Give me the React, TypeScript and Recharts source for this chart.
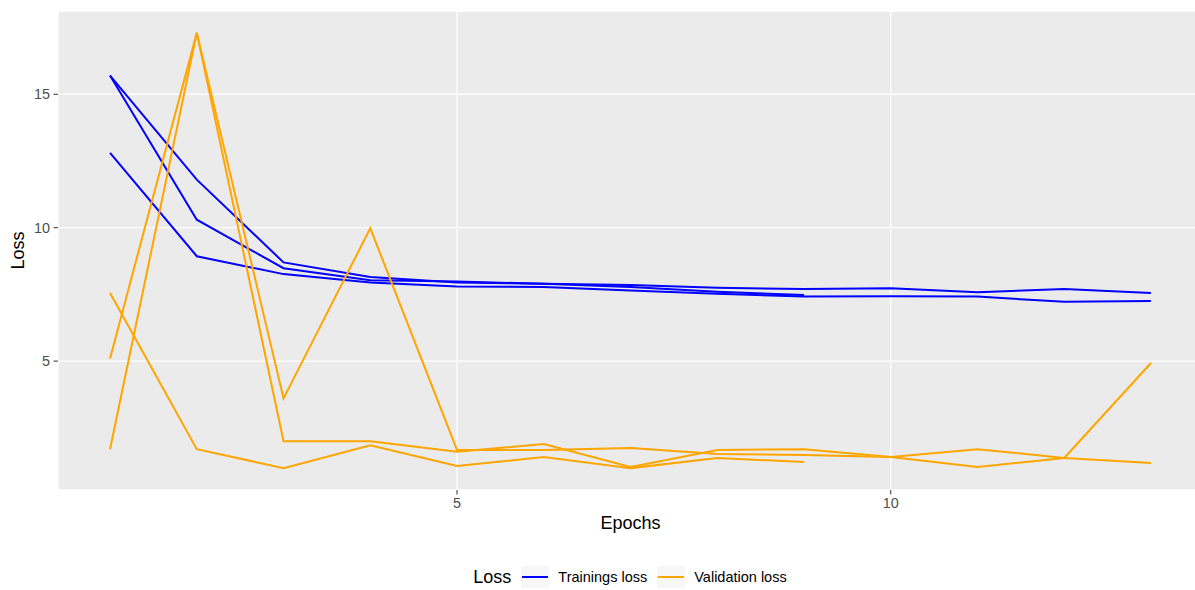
import React from "react"
import { LineChart, Line, XAxis, YAxis, CartesianGrid } from "recharts"

// epochs and losses of three training runs (run A stopped after 9 epochs)
const epochs = [1, 2, 3, 4, 5, 6, 7, 8, 9, 10, 11, 12, 13]

const trainA = [15.7, 11.8, 8.7, 8.15, 7.95, 7.9, 7.78, 7.6, 7.48]
const trainB = [15.7, 10.3, 8.48, 8.03, 7.98, 7.9, 7.85, 7.75, 7.7, 7.73, 7.58, 7.7, 7.55]
const trainC = [12.8, 8.93, 8.26, 7.95, 7.8, 7.78, 7.65, 7.52, 7.42, 7.43, 7.42, 7.22, 7.25]

const valA = [7.55, 1.7, 0.99, 1.85, 1.07, 1.41, 0.99, 1.37, 1.22]
const valB = [5.1, 17.3, 3.6, 9.98, 1.67, 1.67, 1.74, 1.52, 1.48, 1.41, 1.03, 1.37, 4.93]
const valC = [1.7, 17.3, 2.0, 2.0, 1.6, 1.89, 1.03, 1.67, 1.7, 1.41, 1.7, 1.37, 1.18]

const xTicks = [5, 10]
const yTicks = [5, 10, 15]

const legendTitle = "Loss"
const legendItems = [
  { name: "Trainings loss", color: "#0000FF" },
  { name: "Validation loss", color: "#FFA500" },
]

const data = epochs.map((epoch, i) => ({
  epoch,
  trainA: trainA[i],
  trainB: trainB[i],
  trainC: trainC[i],
  valA: valA[i],
  valB: valB[i],
  valC: valC[i],
}))

const FONT = "'Liberation Sans', Arial, sans-serif"
const BLUE = "#0000FF"
const ORANGE = "#FFA500"

function LegendBox() {
  return (
    <div
      style={{
        position: "absolute",
        left: 0,
        top: 565,
        width: 1260,
        height: 24,
        display: "flex",
        alignItems: "center",
        justifyContent: "center",
        fontFamily: FONT,
      }}
    >
      <span style={{ fontSize: 18, color: "#000", marginRight: 10 }}>{legendTitle}</span>
      {legendItems.map((item, i) => (
        <div key={item.name} style={{ display: "flex", alignItems: "center", marginRight: i === 0 ? 10 : 0 }}>
          <div
            style={{
              width: 28,
              height: 22,
              background: "#F7F7F7",
              display: "flex",
              alignItems: "center",
              justifyContent: "center",
            }}
          >
            <div style={{ width: 26, height: 2, background: item.color }} />
          </div>
          <span style={{ fontSize: 14.5, color: "#000", marginLeft: 9 }}>{item.name}</span>
        </div>
      ))}
    </div>
  )
}

export default function App() {
  const tickStyle = { fontSize: 14.4, fill: "#4D4D4D", fontFamily: FONT }
  return (
    <div
      style={{
        position: "absolute",
        left: 0,
        top: 0,
        width: 1195,
        height: 590,
        overflow: "hidden",
        background: "#FFFFFF",
      }}
    >
      <LineChart width={1210} height={590} data={data} margin={{ top: 11, right: 7, bottom: 55, left: 0 }}>
        <CartesianGrid fill="#EBEBEB" stroke="#FFFFFF" strokeWidth={1.3} />
        <XAxis
          dataKey="epoch"
          type="number"
          domain={[0.4, 13.6]}
          ticks={xTicks}
          allowDataOverflow
          axisLine={false}
          tickLine={{ stroke: "#333333" }}
          tickSize={4.5}
          tickMargin={3}
          tick={tickStyle}
          height={45}
          label={({ viewBox }: any) => (
            <text
              x={viewBox.x + viewBox.width / 2}
              y={viewBox.y + 39}
              textAnchor="middle"
              fontSize={18}
              fontFamily={FONT}
              fill="#000"
            >
              Epochs
            </text>
          )}
        />
        <YAxis
          type="number"
          domain={[0.17, 18.12]}
          ticks={yTicks}
          allowDataOverflow
          axisLine={false}
          tickLine={{ stroke: "#333333" }}
          tickSize={4.5}
          tickMargin={3.5}
          tick={tickStyle}
          width={58}
          label={({ viewBox }: any) => {
            const x = viewBox.x + 24
            const y = viewBox.y + viewBox.height / 2
            return (
              <text
                x={x}
                y={y}
                transform={`rotate(-90, ${x}, ${y})`}
                textAnchor="middle"
                fontSize={18}
                fontFamily={FONT}
                fill="#000"
              >
                Loss
              </text>
            )
          }}
        />
        <Line dataKey="trainA" stroke={BLUE} strokeWidth={2} dot={false} isAnimationActive={false} />
        <Line dataKey="trainB" stroke={BLUE} strokeWidth={2} dot={false} isAnimationActive={false} />
        <Line dataKey="trainC" stroke={BLUE} strokeWidth={2} dot={false} isAnimationActive={false} />
        <Line dataKey="valA" stroke={ORANGE} strokeWidth={2} dot={false} isAnimationActive={false} />
        <Line dataKey="valB" stroke={ORANGE} strokeWidth={2} dot={false} isAnimationActive={false} />
        <Line dataKey="valC" stroke={ORANGE} strokeWidth={2} dot={false} isAnimationActive={false} />
      </LineChart>
      <LegendBox />
    </div>
  )
}
